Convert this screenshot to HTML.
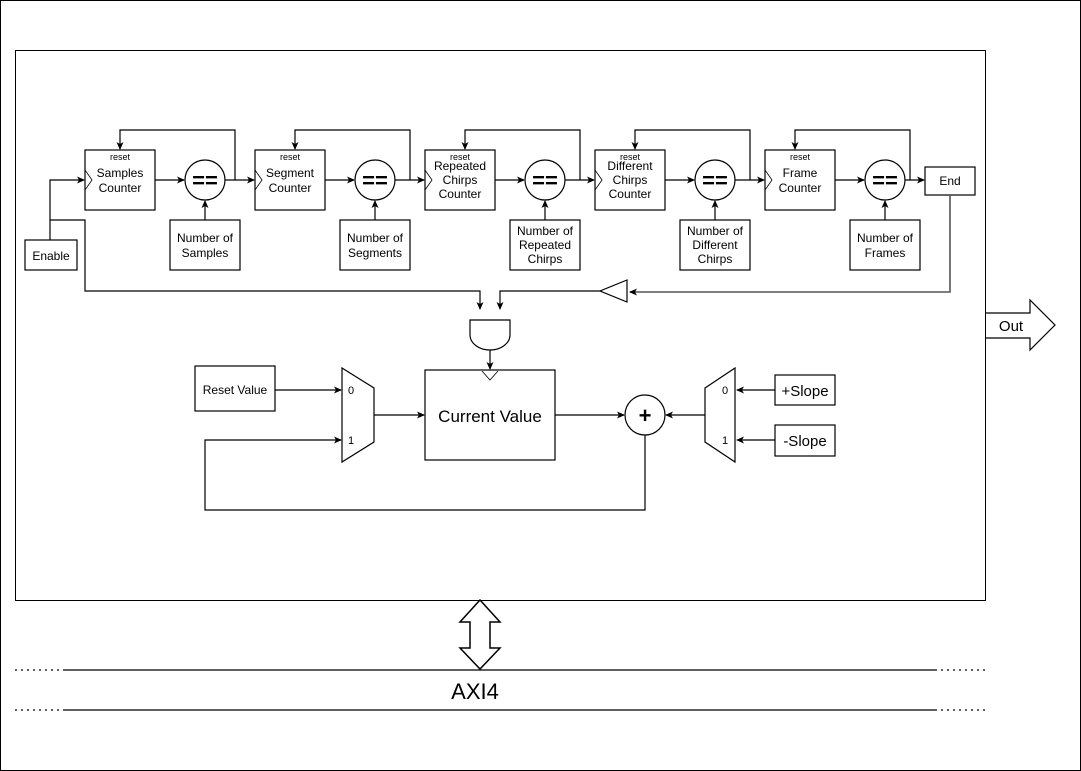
<!DOCTYPE html>
<html><head><meta charset="utf-8"><style>body{margin:0;background:#fff}svg{display:block}text{font-family:"Liberation Sans",sans-serif;fill:#000}</style></head><body>
<svg width="1081" height="771" viewBox="0 0 1081 771" xmlns="http://www.w3.org/2000/svg">
<defs><marker id="a" markerWidth="8" markerHeight="8" refX="7" refY="4" orient="auto" markerUnits="userSpaceOnUse"><path d="M0,0.5 L8,4 L0,7.5 L2,4 Z" fill="#000"/></marker></defs>
<rect x="0.5" y="0.5" width="1080" height="770" fill="#fff" stroke="#000"/>
<rect x="15.5" y="50.5" width="970" height="550" fill="#fff" stroke="#000"/>
<g fill="none" stroke="#000" stroke-width="1.2">
<!-- counters -->
<g id="c">
</g>
<rect x="85" y="150" width="70" height="60"/><rect x="255" y="150" width="70" height="60"/><rect x="425" y="150" width="70" height="60"/><rect x="595" y="150" width="70" height="60"/><rect x="765" y="150" width="70" height="60"/>
<path d="M85,170 L92,180 L85,190 M255,170 L262,180 L255,190 M425,170 L432,180 L425,190 M595,170 L602,180 L595,190 M765,170 L772,180 L765,190" stroke-width="0.8"/>
<circle cx="205" cy="180" r="20"/><circle cx="375" cy="180" r="20"/><circle cx="545" cy="180" r="20"/><circle cx="715" cy="180" r="20"/><circle cx="885" cy="180" r="20"/>
<rect x="170" y="220" width="70" height="50"/><rect x="340" y="220" width="70" height="50"/><rect x="510" y="220" width="70" height="50"/><rect x="680" y="220" width="70" height="50"/><rect x="850" y="220" width="70" height="50"/>
<rect x="925" y="167" width="50" height="28"/><rect x="25" y="240" width="52" height="30"/>
<!-- chain arrows -->
<path d="M155,180 H184" marker-end="url(#a)"/><path d="M225,180 H254" marker-end="url(#a)"/>
<path d="M325,180 H354" marker-end="url(#a)"/><path d="M395,180 H424" marker-end="url(#a)"/>
<path d="M495,180 H524" marker-end="url(#a)"/><path d="M565,180 H594" marker-end="url(#a)"/>
<path d="M665,180 H694" marker-end="url(#a)"/><path d="M735,180 H764" marker-end="url(#a)"/>
<path d="M835,180 H864" marker-end="url(#a)"/><path d="M905,180 H924" marker-end="url(#a)"/>
<path d="M205,220 V201" marker-end="url(#a)"/><path d="M375,220 V201" marker-end="url(#a)"/><path d="M545,220 V201" marker-end="url(#a)"/><path d="M715,220 V201" marker-end="url(#a)"/><path d="M885,220 V201" marker-end="url(#a)"/>
<!-- feedback -->
<path d="M235,180 V130 H120 V149" marker-end="url(#a)"/>
<path d="M410,180 V130 H295 V149" marker-end="url(#a)"/>
<path d="M580,180 V130 H465 V149" marker-end="url(#a)"/>
<path d="M750,180 V130 H635 V149" marker-end="url(#a)"/>
<path d="M910,180 V130 H795 V149" marker-end="url(#a)"/>
<!-- enable -->
<path d="M50,240 V180 H84" marker-end="url(#a)"/>
<path d="M50,220 H85 V291 H480 V309" marker-end="url(#a)"/>
<path d="M950,195 V292 H630" marker-end="url(#a)" stroke="#555" stroke-width="1.6"/>
<path d="M627,280 L600,291 L627,302 Z"/>
<path d="M600,291 H500 V309" marker-end="url(#a)"/>
<!-- AND -->
<path d="M470,320 H510 V335 A20,15 0 0 1 470,335 Z"/>
<path d="M490,350 V369" marker-end="url(#a)"/>
<rect x="425" y="370" width="130" height="90"/>
<path d="M482,371 L490,380 L498,371" stroke-width="0.8"/>
<!-- left mux -->
<path d="M342,368 L374,388 L374,442 L342,462 Z"/>
<rect x="195" y="366" width="80" height="45"/>
<path d="M275,390 H341" marker-end="url(#a)"/>
<path d="M374,415 H424" marker-end="url(#a)"/>
<path d="M555,415 H624" marker-end="url(#a)"/>
<circle cx="645" cy="415" r="20"/>
<path d="M645,435 V510 H205 V440 H341" marker-end="url(#a)"/>
<!-- right mux -->
<path d="M705,388 L735,368 L735,462 L705,442 Z"/>
<path d="M705,415 H666" marker-end="url(#a)"/>
<rect x="775" y="375" width="60" height="30"/><rect x="775" y="425" width="60" height="31"/>
<path d="M775,390 H737" marker-end="url(#a)"/><path d="M775,440 H737" marker-end="url(#a)"/>
<!-- out -->
<path d="M985,313 H1030 V300 L1055,325 L1030,350 V338 H985"/>
<!-- double arrow -->
<path d="M480,600 L500,622 H490 V648 H500 L480,669 L460,648 H470 V622 H460 Z" stroke-width="1.5"/>
<path d="M65,670 H935 M65,710 H935"/>
<path d="M15,670 H65 M935,670 H985 M15,710 H65 M935,710 H985" stroke-dasharray="2,4"/>
</g>
<g font-size="12" text-anchor="middle">
<g font-size="9"><text x="120" y="160">reset</text><text x="290" y="160">reset</text><text x="460" y="160">reset</text><text x="630" y="160">reset</text><text x="800" y="160">reset</text></g>
<text x="120" y="177">Samples</text><text x="120" y="192">Counter</text>
<text x="290" y="177">Segment</text><text x="290" y="192">Counter</text>
<text x="460" y="170">Repeated</text><text x="460" y="184">Chirps</text><text x="460" y="198">Counter</text>
<text x="630" y="170">Different</text><text x="630" y="184">Chirps</text><text x="630" y="198">Counter</text>
<text x="800" y="177">Frame</text><text x="800" y="192">Counter</text>
<text x="205" y="242">Number of</text><text x="205" y="257">Samples</text>
<text x="375" y="242">Number of</text><text x="375" y="257">Segments</text>
<text x="545" y="235">Number of</text><text x="545" y="249">Repeated</text><text x="545" y="263">Chirps</text>
<text x="715" y="235">Number of</text><text x="715" y="249">Different</text><text x="715" y="263">Chirps</text>
<text x="885" y="242">Number of</text><text x="885" y="257">Frames</text>
<text x="950" y="185">End</text><text x="51" y="260">Enable</text>
<text x="235" y="394">Reset Value</text>
<text x="490" y="422" font-size="17">Current Value</text>
<text x="805" y="396" font-size="15">+Slope</text><text x="805" y="446" font-size="15">-Slope</text>
<text x="1011" y="331" font-size="15">Out</text>
<text x="475" y="699" font-size="22">AXI4</text>
<text x="351" y="394" font-size="11">0</text><text x="351" y="444" font-size="11">1</text>
<text x="725" y="394" font-size="11">0</text><text x="725" y="444" font-size="11">1</text>
</g>
<g font-size="22" font-weight="bold" text-anchor="middle"><text x="205" y="188">==</text><text x="375" y="188">==</text><text x="545" y="188">==</text><text x="715" y="188">==</text><text x="885" y="188">==</text><text x="645" y="423">+</text></g>
</svg>
</body></html>
